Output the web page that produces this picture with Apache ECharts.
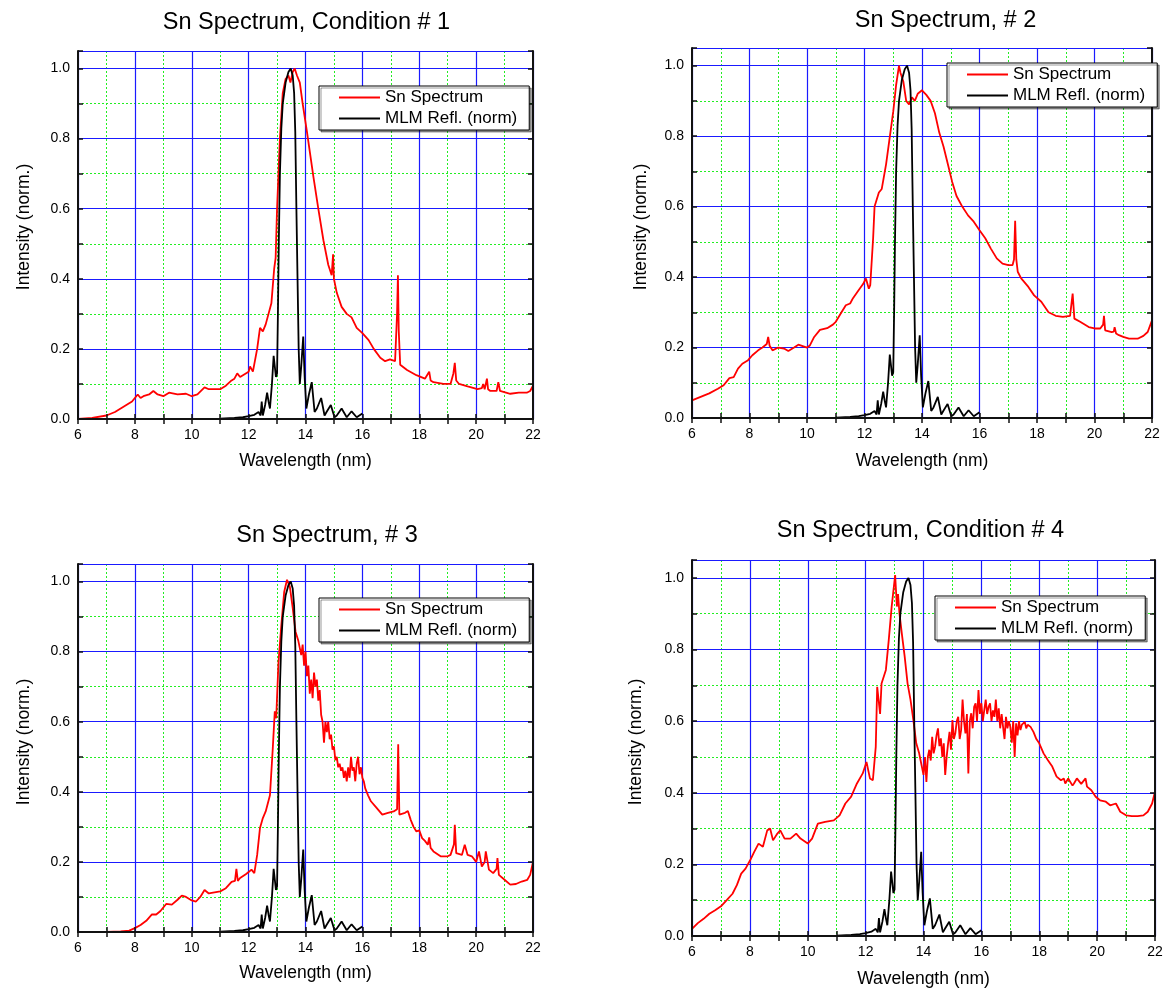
<!DOCTYPE html>
<html>
<head>
<meta charset="utf-8">
<script src="https://cdn.jsdelivr.net/npm/echarts@6/dist/echarts.min.js"></script>
<style>html,body{margin:0;padding:0;background:#fff}#c{width:1166px;height:992px}</style>
</head>
<body>
<div id="c"></div>
<script>
// ---------------- DATA ----------------
const panelTitles = ['Sn Spectrum, Condition # 1', 'Sn Spectrum, # 2', 'Sn Spectrum, # 3', 'Sn Spectrum, Condition # 4'];
const seriesNames = ['Sn Spectrum', 'MLM Refl. (norm)'];
const xAxisName = 'Wavelength (nm)';
const yAxisName = 'Intensity (norm.)';

// Panel 1 – Sn spectrum
const wl1 = [6.0, 6.5, 7.0, 7.3, 7.5, 7.7, 7.9, 8.0, 8.1, 8.2, 8.3, 8.5, 8.65, 8.8, 9.0, 9.2, 9.5, 9.8, 10.0, 10.2, 10.45, 10.6, 11.0, 11.2, 11.4, 11.5, 11.6, 11.7, 12.0, 12.05, 12.15, 12.3, 12.4, 12.5, 12.6, 12.8, 12.9, 12.95, 13.0, 13.1, 13.2, 13.3, 13.4, 13.47, 13.55, 13.62, 13.7, 13.8, 13.9, 14.05, 14.28, 14.45, 14.63, 14.8, 14.92, 14.97, 15.0, 15.1, 15.27, 15.45, 15.62, 15.8, 16.0, 16.22, 16.4, 16.63, 16.8, 16.97, 17.15, 17.22, 17.25, 17.28, 17.33, 17.57, 17.9, 18.2, 18.35, 18.4, 18.5, 18.85, 19.1, 19.2, 19.25, 19.3, 19.4, 19.7, 20.05, 20.2, 20.25, 20.3, 20.35, 20.38, 20.42, 20.5, 20.72, 20.78, 20.84, 20.9, 21.2, 21.5, 21.78, 21.9, 22.0];
const sn1 = [0.0, 0.003, 0.01, 0.02, 0.03, 0.04, 0.05, 0.06, 0.07, 0.06, 0.065, 0.07, 0.08, 0.07, 0.065, 0.075, 0.07, 0.072, 0.065, 0.07, 0.09, 0.085, 0.085, 0.095, 0.11, 0.115, 0.13, 0.12, 0.135, 0.15, 0.135, 0.2, 0.26, 0.25, 0.27, 0.33, 0.43, 0.46, 0.6, 0.8, 0.93, 0.97, 0.98, 0.96, 0.99, 1.0, 0.98, 0.96, 0.9, 0.82, 0.69, 0.6, 0.51, 0.44, 0.41, 0.47, 0.4, 0.36, 0.32, 0.3, 0.29, 0.26, 0.245, 0.225, 0.2, 0.175, 0.165, 0.17, 0.165, 0.3, 0.41, 0.25, 0.155, 0.14, 0.125, 0.115, 0.135, 0.11, 0.105, 0.1, 0.1, 0.13, 0.16, 0.11, 0.1, 0.093, 0.085, 0.088, 0.1, 0.085, 0.09, 0.115, 0.085, 0.08, 0.08, 0.105, 0.08, 0.078, 0.072, 0.075, 0.075, 0.08, 0.095];

// Panel 2 – Sn spectrum
const wl2 = [6.0, 6.3, 6.6, 6.9, 7.1, 7.3, 7.45, 7.6, 7.75, 7.95, 8.1, 8.3, 8.45, 8.6, 8.65, 8.7, 8.8, 9.0, 9.2, 9.35, 9.55, 9.7, 10.0, 10.1, 10.25, 10.45, 10.7, 10.9, 11.0, 11.2, 11.35, 11.5, 11.6, 11.8, 11.95, 12.05, 12.15, 12.2, 12.3, 12.35, 12.5, 12.6, 12.75, 12.9, 13.0, 13.1, 13.2, 13.25, 13.35, 13.45, 13.55, 13.65, 13.75, 13.85, 14.0, 14.15, 14.3, 14.45, 14.6, 14.75, 14.9, 15.05, 15.2, 15.4, 15.6, 15.8, 16.0, 16.2, 16.4, 16.6, 16.8, 17.0, 17.15, 17.2, 17.24, 17.28, 17.33, 17.45, 17.7, 17.9, 18.15, 18.4, 18.65, 18.9, 19.15, 19.24, 19.3, 19.5, 19.8, 20.0, 20.2, 20.3, 20.33, 20.37, 20.6, 20.67, 20.7, 20.75, 20.85, 21.0, 21.2, 21.5, 21.7, 21.85, 22.0];
const sn2 = [0.05, 0.06, 0.07, 0.083, 0.093, 0.113, 0.116, 0.14, 0.154, 0.164, 0.178, 0.192, 0.2, 0.21, 0.23, 0.205, 0.192, 0.2, 0.197, 0.19, 0.2, 0.208, 0.2, 0.206, 0.23, 0.25, 0.255, 0.265, 0.273, 0.3, 0.32, 0.325, 0.34, 0.363, 0.38, 0.396, 0.367, 0.377, 0.51, 0.6, 0.64, 0.65, 0.72, 0.81, 0.87, 0.945, 1.0, 0.98, 0.955, 0.9, 0.89, 0.91, 0.9, 0.92, 0.93, 0.917, 0.9, 0.865, 0.81, 0.77, 0.72, 0.67, 0.63, 0.6, 0.575, 0.557, 0.533, 0.51, 0.48, 0.453, 0.438, 0.434, 0.434, 0.45, 0.56, 0.45, 0.415, 0.396, 0.372, 0.348, 0.33, 0.3, 0.29, 0.287, 0.29, 0.353, 0.282, 0.273, 0.258, 0.254, 0.254, 0.265, 0.29, 0.249, 0.244, 0.245, 0.258, 0.24, 0.235, 0.23, 0.225, 0.225, 0.233, 0.244, 0.277];

// Panel 3 – Sn spectrum
const wl3 = [6.0, 7.0, 7.5, 7.8, 8.0, 8.2, 8.4, 8.6, 8.75, 8.9, 9.1, 9.3, 9.5, 9.65, 9.8, 10.0, 10.15, 10.3, 10.45, 10.6, 10.8, 11.0, 11.2, 11.4, 11.52, 11.57, 11.62, 11.7, 11.9, 12.0, 12.1, 12.2, 12.3, 12.4, 12.5, 12.6, 12.75, 12.85, 12.92, 12.97, 13.05, 13.15, 13.25, 13.35, 13.45, 13.55, 13.65, 13.75,
  13.85, 13.9, 13.95, 14.0, 14.05, 14.1, 14.15, 14.2, 14.25, 14.3, 14.35, 14.4, 14.45, 14.5, 14.55, 14.6, 14.65, 14.7, 14.75, 14.8, 14.85, 14.9, 14.95, 15.0, 15.05, 15.1, 15.15, 15.2, 15.25, 15.3, 15.35, 15.4, 15.45, 15.5, 15.55, 15.6, 15.65, 15.7, 15.75, 15.8, 15.85, 15.9, 15.95, 16.0, 16.05, 16.1,
  16.2, 16.3, 16.5, 16.7, 16.9, 17.1, 17.22, 17.26, 17.3, 17.5, 17.6, 17.7, 17.8, 17.9, 18.0, 18.1, 18.2, 18.3, 18.35, 18.4, 18.5, 18.75, 19.0, 19.1, 19.22, 19.25, 19.3, 19.5, 19.6, 19.7, 19.85, 20.0, 20.1, 20.2, 20.3, 20.34, 20.45, 20.6, 20.72, 20.75, 20.8, 21.0, 21.2, 21.4, 21.6, 21.8, 21.9, 22.0];
const sn3 = [0.0, 0.0, 0.002, 0.004, 0.011, 0.02, 0.032, 0.05, 0.05, 0.06, 0.08, 0.078, 0.092, 0.104, 0.1, 0.09, 0.087, 0.1, 0.12, 0.11, 0.113, 0.116, 0.125, 0.143, 0.146, 0.18, 0.146, 0.154, 0.165, 0.171, 0.178, 0.168, 0.22, 0.297, 0.325, 0.344, 0.39, 0.525, 0.63, 0.61, 0.77, 0.875, 0.97, 1.005, 0.985, 0.925, 0.857, 0.83,
  0.79, 0.82, 0.76, 0.8, 0.73, 0.76, 0.68, 0.72, 0.667, 0.74, 0.7, 0.72, 0.66, 0.69, 0.62, 0.6, 0.54, 0.6, 0.57, 0.6, 0.55, 0.563, 0.52, 0.53, 0.49, 0.5, 0.47, 0.48, 0.46, 0.47, 0.44, 0.46, 0.43, 0.47, 0.44, 0.5, 0.46, 0.47, 0.43, 0.48, 0.5, 0.45, 0.47, 0.44, 0.43, 0.41,
  0.39, 0.373, 0.354, 0.335, 0.34, 0.344, 0.35, 0.536, 0.335, 0.34, 0.345, 0.32, 0.3, 0.287, 0.29, 0.268, 0.26, 0.249, 0.27, 0.24, 0.23, 0.216, 0.216, 0.22, 0.25, 0.306, 0.225, 0.22, 0.249, 0.22, 0.216, 0.2, 0.23, 0.187, 0.2, 0.23, 0.178, 0.168, 0.18, 0.211, 0.163, 0.149, 0.135, 0.137, 0.144, 0.149, 0.163, 0.2];

// Panel 4 – Sn spectrum
const wl4 = [6.0, 6.2, 6.4, 6.6, 6.8, 7.0, 7.2, 7.4, 7.55, 7.7, 7.85, 8.0, 8.15, 8.3, 8.45, 8.6, 8.7, 8.8, 8.95, 9.05, 9.2, 9.4, 9.6, 9.75, 10.0, 10.15, 10.35, 10.6, 10.9, 11.1, 11.3, 11.5, 11.7, 11.9, 12.03, 12.15, 12.25, 12.35, 12.4, 12.5, 12.55, 12.7, 12.8, 12.9, 13.02, 13.08, 13.12, 13.17, 13.25, 13.35, 13.45, 13.55, 13.65, 13.75,
  13.85, 13.9, 13.95, 14.0, 14.05, 14.1, 14.15, 14.2, 14.25, 14.3, 14.35, 14.4, 14.45, 14.5, 14.55, 14.6, 14.65, 14.7, 14.75, 14.8, 14.85, 14.9, 14.95, 15.0, 15.05, 15.1, 15.15, 15.2, 15.25, 15.3, 15.35, 15.4, 15.45, 15.5, 15.55, 15.6, 15.65, 15.7, 15.75, 15.8, 15.85, 15.9, 15.95, 16.0, 16.05, 16.1, 16.15, 16.2, 16.25, 16.3, 16.35, 16.4, 16.45, 16.5, 16.55, 16.6, 16.65, 16.7, 16.75, 16.8, 16.85, 16.9, 16.95, 17.0, 17.05, 17.1, 17.15, 17.2, 17.25, 17.3, 17.35, 17.4, 17.5, 17.55, 17.6, 17.7, 17.8, 17.85, 17.9, 18.0,
  18.15, 18.3, 18.45, 18.6, 18.75, 18.85, 18.9, 19.0, 19.05, 19.15, 19.2, 19.3, 19.35, 19.45, 19.5, 19.6, 19.65, 19.8, 19.95, 20.1, 20.3, 20.45, 20.65, 20.8, 21.0, 21.2, 21.4, 21.6, 21.75, 21.9, 22.0];
const sn4 = [0.02, 0.036, 0.048, 0.062, 0.072, 0.083, 0.1, 0.118, 0.142, 0.174, 0.188, 0.21, 0.235, 0.258, 0.249, 0.295, 0.3, 0.267, 0.286, 0.295, 0.272, 0.272, 0.286, 0.272, 0.258, 0.272, 0.314, 0.319, 0.323, 0.337, 0.37, 0.389, 0.426, 0.454, 0.486, 0.44, 0.435, 0.528, 0.696, 0.62, 0.705, 0.743, 0.827, 0.92, 1.008, 0.92, 0.955, 0.9, 0.845, 0.78, 0.705, 0.66, 0.603, 0.538,
  0.51, 0.49, 0.47, 0.45, 0.5, 0.43, 0.5, 0.52, 0.49, 0.556, 0.51, 0.528, 0.56, 0.58, 0.53, 0.552, 0.5, 0.538, 0.45, 0.5, 0.538, 0.57, 0.52, 0.603, 0.55, 0.566, 0.6, 0.612, 0.55, 0.575, 0.66, 0.6, 0.566, 0.62, 0.454, 0.6, 0.622, 0.58, 0.64, 0.65, 0.6, 0.687, 0.62, 0.65, 0.6, 0.631, 0.66, 0.62, 0.64, 0.65, 0.6, 0.63, 0.612, 0.66, 0.6, 0.636, 0.58, 0.62, 0.584, 0.55, 0.612, 0.58, 0.6, 0.584, 0.54, 0.6, 0.5, 0.594, 0.56, 0.6, 0.575, 0.59, 0.598, 0.58, 0.59, 0.584, 0.57, 0.566, 0.55, 0.538,
  0.51, 0.491, 0.473, 0.445, 0.435, 0.44, 0.426, 0.44, 0.435, 0.42, 0.426, 0.44, 0.445, 0.425, 0.426, 0.44, 0.417, 0.407, 0.389, 0.379, 0.375, 0.365, 0.37, 0.347, 0.337, 0.335, 0.335, 0.337, 0.347, 0.37, 0.403];

// MLM reflectivity (normalised) – same in all panels
const mlmWl = [11.0, 11.5, 11.8, 12.0, 12.2, 12.35, 12.42, 12.46, 12.5, 12.58, 12.65, 12.7, 12.75, 12.82, 12.88, 12.92, 12.96, 13.0, 13.03, 13.06, 13.1, 13.15, 13.2, 13.3, 13.4, 13.48, 13.55, 13.6, 13.64, 13.68, 13.72, 13.76, 13.8, 13.85, 13.92, 13.97, 14.03, 14.12, 14.22, 14.32, 14.4, 14.55, 14.67, 14.74, 14.89, 15.02, 15.1, 15.27, 15.45, 15.62, 15.8, 16.0];
const mlm = [0.001, 0.003, 0.005, 0.008, 0.012, 0.02, 0.01, 0.05, 0.01, 0.04, 0.075, 0.05, 0.03, 0.1, 0.18, 0.15, 0.12, 0.13, 0.3, 0.5, 0.7, 0.83, 0.9, 0.96, 0.99, 1.0, 0.98, 0.93, 0.82, 0.6, 0.4, 0.2, 0.1, 0.15, 0.235, 0.12, 0.03, 0.07, 0.105, 0.02, 0.03, 0.06, 0.01, 0.02, 0.04, 0.005, 0.01, 0.03, 0.005, 0.022, 0.005, 0.016];

const xTickValues = [6, 8, 10, 12, 14, 16, 18, 20, 22];
const yTickValues = [0.0, 0.2, 0.4, 0.6, 0.8, 1.0];

const spectra = [[wl1, sn1], [wl2, sn2], [wl3, sn3], [wl4, sn4]];

// ---------------- LAYOUT ----------------
const FONT = '"Liberation Sans", Arial, Helvetica, sans-serif';
const layout = [
  {grid: {left: 78,  top: 51,  width: 455, height: 368}, title: [306.5, 10.5], legend: [319, 86], yGap: 45, yPad: 16, xGap: 33},
  {grid: {left: 692, top: 48,  width: 460, height: 370}, title: [945.5, 9],    legend: [947, 63], yGap: 42, yPad: 12, xGap: 34},
  {grid: {left: 78,  top: 564, width: 455, height: 368}, title: [327, 524],    legend: [319, 598], yGap: 45, yPad: 12, xGap: 32},
  {grid: {left: 692, top: 560, width: 463, height: 376}, title: [920.5, 519],  legend: [935, 596], yGap: 47, yPad: 12, xGap: 34}
];

const XMIN = 6, XMAX = 22, YMIN = 0, YMAX = 1.05;
const zip = (a, b) => a.map((v, i) => [v, b[i]]);

const option = {
  animation: false,
  backgroundColor: '#ffffff',
  title: [], grid: [], xAxis: [], yAxis: [], legend: [], series: []
};

const hidden = {axisLine: {show: false}, axisTick: {show: false}, axisLabel: {show: false}};
const frameLine = {show: true, lineStyle: {color: '#111', width: 2}};
const frameTick = {show: true, inside: true, length: 5, lineStyle: {color: '#111', width: 1.5}};
const minorLine = {show: true, lineStyle: {color: '#22ee22', type: [2, 2], width: 1}};
const majorLine = {show: true, lineStyle: {color: '#1a1aff', width: 1.2}};

layout.forEach((L, k) => {
  option.title.push({
    text: panelTitles[k], left: L.title[0], top: L.title[1], textAlign: 'center', padding: 0,
    textStyle: {fontFamily: FONT, fontSize: 23.5, fontWeight: 'normal', color: '#000'}
  });
  option.grid.push(Object.assign({containLabel: false}, L.grid));

  // x axes: minor green grid, major blue grid, bottom frame, top frame
  option.xAxis.push(Object.assign({type: 'value', gridIndex: k, min: XMIN, max: XMAX, interval: 1, z: 0, splitLine: minorLine}, hidden));
  option.xAxis.push(Object.assign({type: 'value', gridIndex: k, min: XMIN, max: XMAX, interval: 2, z: 1, splitLine: majorLine}, hidden));
  option.xAxis.push({type: 'value', gridIndex: k, min: XMIN, max: XMAX, interval: 1, z: 5, position: 'bottom',
    axisLine: frameLine, axisTick: frameTick, splitLine: {show: false},
    axisLabel: {show: true, margin: 9, fontFamily: FONT, fontSize: 14, color: '#000',
      formatter: v => xTickValues.indexOf(v) >= 0 ? String(v) : ''},
    name: xAxisName, nameLocation: 'middle', nameGap: L.xGap,
    nameTextStyle: {fontFamily: FONT, fontSize: 17.5, color: '#000'}});
  option.xAxis.push({type: 'value', gridIndex: k, min: XMIN, max: XMAX, interval: 1, z: 5, position: 'top',
    axisLine: frameLine, axisTick: frameTick, splitLine: {show: false}, axisLabel: {show: false}});

  // y axes
  option.yAxis.push(Object.assign({type: 'value', gridIndex: k, min: YMIN, max: YMAX, interval: 0.1, z: 0, splitLine: minorLine}, hidden));
  option.yAxis.push(Object.assign({type: 'value', gridIndex: k, min: YMIN, max: YMAX, interval: 0.2, z: 1, splitLine: majorLine}, hidden));
  option.yAxis.push({type: 'value', gridIndex: k, min: YMIN, max: YMAX, interval: 0.1, z: 5, position: 'left',
    axisLine: frameLine, axisTick: frameTick, splitLine: {show: false},
    axisLabel: {show: true, margin: 8, fontFamily: FONT, fontSize: 14, color: '#000',
      formatter: v => yTickValues.some(t => Math.abs(t - v) < 1e-6) ? v.toFixed(1) : ''},
    name: yAxisName, nameLocation: 'middle', nameGap: L.yGap,
    nameTextStyle: {fontFamily: FONT, fontSize: 17.5, color: '#000', padding: [0, 0, 0, L.yPad]}});
  option.yAxis.push({type: 'value', gridIndex: k, min: YMIN, max: YMAX, interval: 0.1, z: 5, position: 'right',
    axisLine: frameLine, axisTick: frameTick, splitLine: {show: false}, axisLabel: {show: false}});

  const ax = 4 * k + 2;
  option.series.push({
    type: 'line', name: seriesNames[0], xAxisIndex: ax, yAxisIndex: ax,
    data: zip(spectra[k][0], spectra[k][1]), symbol: 'none', showSymbol: false, z: 3,
    lineStyle: {color: '#ff0000', width: 1.8}, itemStyle: {color: '#ff0000'}
  });
  option.series.push({
    type: 'line', name: seriesNames[1], xAxisIndex: ax, yAxisIndex: ax,
    data: zip(mlmWl, mlm), symbol: 'none', showSymbol: false, z: 4,
    lineStyle: {color: '#000000', width: 1.8}, itemStyle: {color: '#000000'}
  });

  option.legend.push({
    data: seriesNames, left: L.legend[0], top: L.legend[1], orient: 'vertical',
    icon: 'rect', itemWidth: 41, itemHeight: 2, itemGap: 4, padding: [3, 12, 3, 20],
    backgroundColor: '#fff', borderColor: '#000', borderWidth: 1,
    shadowColor: 'rgba(0,0,0,0.4)', shadowOffsetX: 2, shadowOffsetY: 2, shadowBlur: 0,
    selectedMode: false, z: 10,
    textStyle: {fontFamily: FONT, fontSize: 17, color: '#000'}
  });
});

const chart = echarts.init(document.getElementById('c'), null, {renderer: 'canvas'});
chart.setOption(option);
</script>
</body>
</html>
